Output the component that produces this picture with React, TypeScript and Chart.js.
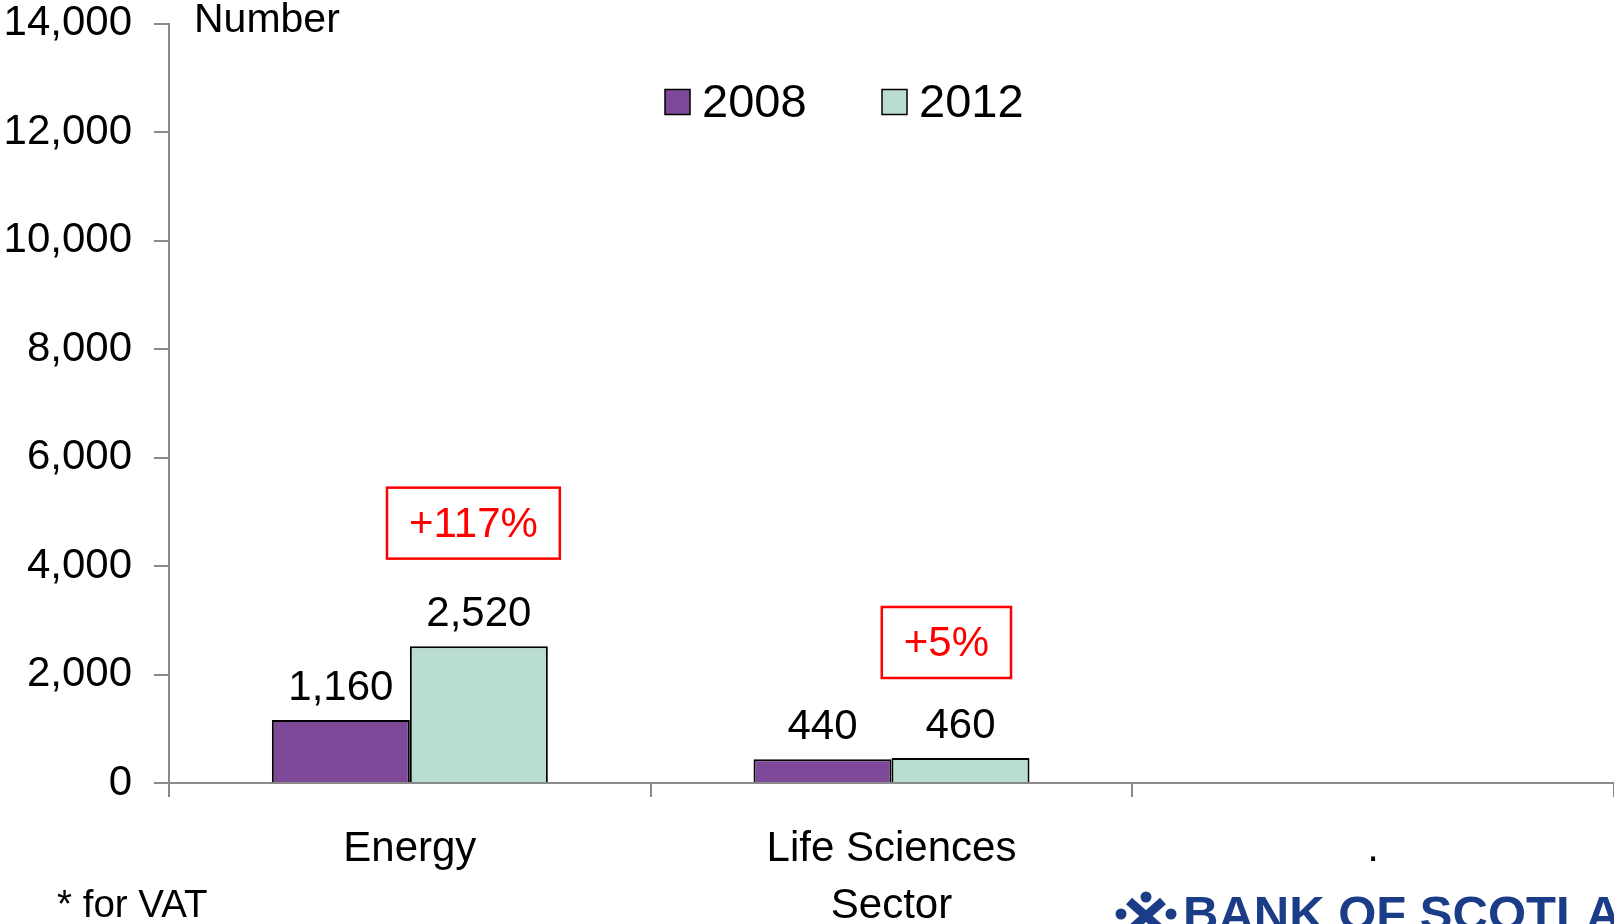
import React, { useEffect, useRef } from "react";
import { Chart, registerables } from "chart.js";

Chart.register(...registerables);

// ---- data ----
const categories = ["Energy", "Life Sciences", "."];
const seriesNames = ["2008", "2012"];
const values2008: (number | null)[] = [1160, 440, null];
const values2012: (number | null)[] = [2520, 460, null];
const yMin = 0;
const yMax = 14000;
const yStep = 2000;
const changeLabels = ["+117%", "+5%"];
const changeCategory = [0, 1];
const changeValue = [4790, 2590];

// ---- styles ----
const FONT = "'Liberation Sans', Arial, Helvetica, sans-serif";
const PURPLE = "#7f4999";
const TEAL = "#b9ddd3";
const AXIS = "#8a8a8a";

const valueLabelPlugin = {
  id: "valueLabels",
  afterDatasetsDraw(chart: any) {
    const ctx = chart.ctx;
    ctx.save();
    ctx.font = `42px ${FONT}`;
    ctx.fillStyle = "#000";
    ctx.textAlign = "center";
    ctx.textBaseline = "middle";
    chart.data.datasets.forEach((ds: any, di: number) => {
      const meta = chart.getDatasetMeta(di);
      meta.data.forEach((el: any, i: number) => {
        const v = ds.data[i];
        if (v == null) return;
        ctx.fillText(Number(v).toLocaleString("en-US"), el.x, el.y - 31.5);
      });
    });
    ctx.restore();
  },
};

const changeBoxPlugin = {
  id: "changeBoxes",
  afterDraw(chart: any, _args: any, opts: any) {
    const ctx = chart.ctx;
    const xs = chart.scales.x;
    const ys = chart.scales.y;
    ctx.save();
    ctx.font = `42px ${FONT}`;
    ctx.textAlign = "center";
    ctx.textBaseline = "middle";
    changeLabels.forEach((t, i) => {
      const cx = xs.getPixelForValue(changeCategory[i] + opts.offsets[i]);
      const cy = ys.getPixelForValue(changeValue[i]);
      const w = ctx.measureText(t).width + 2 * opts.padX;
      const h = opts.height;
      ctx.strokeStyle = "#ff0000";
      ctx.lineWidth = 2.5;
      ctx.strokeRect(cx - w / 2, cy - h / 2, w, h);
      ctx.fillStyle = "#ff0000";
      ctx.fillText(t, cx, cy + 2);
    });
    ctx.restore();
  },
};

const legendPlugin = {
  id: "customLegend",
  afterDraw(chart: any, _args: any, opts: any) {
    const ctx = chart.ctx;
    ctx.save();
    ctx.font = `47px ${FONT}`;
    ctx.textBaseline = "middle";
    ctx.textAlign = "left";
    chart.data.datasets.forEach((ds: any, i: number) => {
      const x = opts.xs[i];
      const y = opts.y;
      ctx.fillStyle = ds.backgroundColor;
      ctx.fillRect(x, y - 12.5, 25, 25);
      ctx.strokeStyle = "#000";
      ctx.lineWidth = 1.5;
      ctx.strokeRect(x, y - 12.5, 25, 25);
      ctx.fillStyle = "#000";
      ctx.fillText(ds.label, x + 37, y + 2);
    });
    ctx.restore();
  },
};

const unitPlugin = {
  id: "unitLabel",
  afterDraw(chart: any) {
    const ctx = chart.ctx;
    ctx.save();
    ctx.font = `41px ${FONT}`;
    ctx.fillStyle = "#000";
    ctx.textAlign = "left";
    ctx.textBaseline = "middle";
    ctx.fillText("Number", chart.chartArea.left + 25, 21);
    ctx.restore();
  },
};

export default function App() {
  const canvasRef = useRef<HTMLCanvasElement | null>(null);

  useEffect(() => {
    if (!canvasRef.current) return;
    const chart = new Chart(canvasRef.current, {
      type: "bar",
      data: {
        labels: categories,
        datasets: [
          {
            label: seriesNames[0],
            data: values2008,
            backgroundColor: PURPLE,
            borderColor: "#000",
            borderWidth: 2,
            categoryPercentage: 0.573,
            barPercentage: 1,
          },
          {
            label: seriesNames[1],
            data: values2012,
            backgroundColor: TEAL,
            borderColor: "#000",
            borderWidth: 2,
            categoryPercentage: 0.573,
            barPercentage: 1,
          },
        ],
      },
      options: {
        responsive: false,
        animation: false,
        devicePixelRatio: 1,
        layout: { padding: { top: 23.5, left: 0, right: 0, bottom: 0 } },
        plugins: {
          legend: { display: false },
          tooltip: { enabled: false },
          changeBoxes: { offsets: [0.132, 0.114], padX: 22, height: 71 },
          customLegend: { xs: [665, 882], y: 102 },
        } as any,
        scales: {
          x: {
            offset: true,
            grid: {
              display: true,
              drawOnChartArea: false,
              drawTicks: true,
              tickLength: 14,
              offset: true,
              color: AXIS,
              lineWidth: 2,
            },
            border: { display: true, color: AXIS, width: 2 },
            ticks: {
              color: "#000",
              font: { family: FONT, size: 42, lineHeight: 1.2 },
              padding: 27,
              maxRotation: 0,
              autoSkip: false,
            },
            title: {
              display: true,
              text: "Sector",
              color: "#000",
              font: { family: FONT, size: 42, lineHeight: 0.8 },
              padding: { top: 0, bottom: 1 },
            },
            afterFit: (scale: any) => {
              scale.height = 141;
            },
          },
          y: {
            min: yMin,
            max: yMax,
            ticks: {
              stepSize: yStep,
              color: "#000",
              font: { family: FONT, size: 42, lineHeight: 1.0 },
              padding: 22,
              callback: (v: any) => Number(v).toLocaleString("en-US"),
            },
            grid: {
              display: true,
              drawOnChartArea: false,
              drawTicks: true,
              tickLength: 15,
              color: AXIS,
              lineWidth: 2,
            },
            border: { display: true, color: AXIS, width: 2 },
            afterFit: (scale: any) => {
              scale.width = 169;
              scale.paddingTop = 0;
              scale.paddingBottom = 0;
            },
          },
        },
      },
      plugins: [valueLabelPlugin, changeBoxPlugin, legendPlugin, unitPlugin],
    });
    return () => chart.destroy();
  }, []);

  return (
    <div
      style={{
        position: "fixed",
        left: 0,
        top: 0,
        width: 1614,
        height: 924,
        overflow: "hidden",
        background: "#fff",
      }}
    >
      <canvas
        ref={canvasRef}
        width={1614}
        height={924}
        style={{ position: "absolute", left: 0, top: 0, width: 1614, height: 924 }}
      />
      <div
        style={{
          position: "absolute",
          left: 57,
          top: 881,
          font: `38.5px ${FONT}`,
          lineHeight: "46px",
          color: "#000",
          whiteSpace: "nowrap",
        }}
      >
        * for VAT
      </div>
      <svg
        width={62}
        height={40}
        viewBox="0 0 62 40"
        style={{ position: "absolute", left: 1115, top: 891 }}
      >
        <g fill="#1b3d87" stroke="#1b3d87">
          <line x1={14} y1={10} x2={48} y2={40} strokeWidth={9} />
          <line x1={48} y1={10} x2={14} y2={40} strokeWidth={9} />
          <circle cx={31} cy={6} r={5.5} stroke="none" />
          <circle cx={6} cy={23} r={5.5} stroke="none" />
          <circle cx={56} cy={23} r={5.5} stroke="none" />
        </g>
      </svg>
      <div
        style={{
          position: "absolute",
          left: 1183,
          top: 885,
          font: `bold 49px ${FONT}`,
          lineHeight: "56px",
          color: "#1b3d87",
          whiteSpace: "nowrap",
        }}
      >
        BANK OF SCOTLAND
      </div>
    </div>
  );
}
